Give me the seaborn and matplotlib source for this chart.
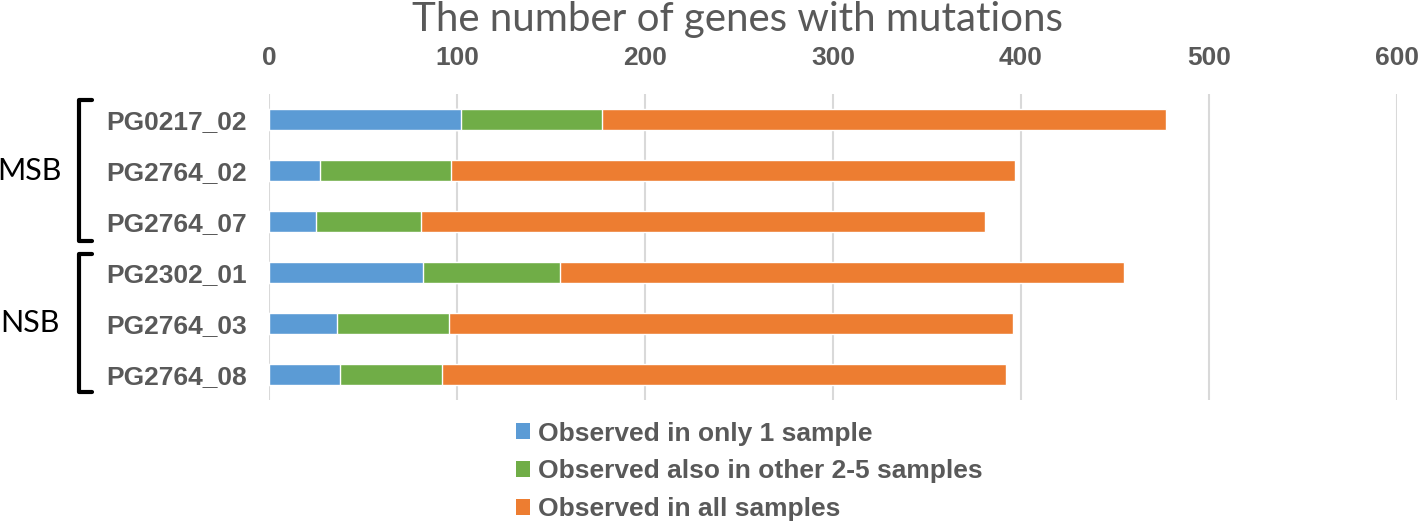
import matplotlib
matplotlib.use('Agg')
import matplotlib.pyplot as plt
from matplotlib.lines import Line2D
from matplotlib.patches import Patch
import matplotlib.transforms as mtransforms
import pandas as pd
import seaborn as sns

samples = ['PG0217_02', 'PG2764_02', 'PG2764_07', 'PG2302_01', 'PG2764_03', 'PG2764_08']
groups = ['MSB', 'MSB', 'MSB', 'NSB', 'NSB', 'NSB']
only_one = [102, 27, 25, 82, 36, 38]
other_2_5 = [75, 70, 56, 73, 60, 54]
all_samples = [300, 300, 300, 300, 300, 300]
series_names = ['Observed in only 1 sample', 'Observed also in other 2-5 samples', 'Observed in all samples']
colors = ['#5B9BD5', '#70AD47', '#ED7D31']
x_ticks = [0, 100, 200, 300, 400, 500, 600]

grey = '#595959'


def main():
    sns.set_theme(style='white')
    plt.rcParams['font.family'] = ['Liberation Sans', 'DejaVu Sans']

    df = pd.DataFrame({'sample': samples, 'group': groups,
                       'one': only_one, 'other': other_2_5, 'all': all_samples})
    # cumulative ends for stacking
    df['c1'] = df['one']
    df['c2'] = df['one'] + df['other']
    df['c3'] = df['c2'] + df['all']

    fig = plt.figure(figsize=(14.18, 5.23), dpi=100)
    ax = fig.add_axes([269 / 1418, 1 - 400 / 523, 1128 / 1418, 306 / 523])

    for col, color in zip(['c3', 'c2', 'c1'], colors[::-1]):
        sns.barplot(data=df, x=col, y='sample', color=color, orient='h',
                    width=0.4, saturation=1, ax=ax, order=samples)

    ax.set_xlim(0, 600)
    ax.set_xticks(x_ticks)
    ax.xaxis.tick_top()
    ax.tick_params(axis='x', length=0, pad=17, labelsize=19, labelcolor=grey)
    ax.tick_params(axis='y', length=0, pad=16, labelsize=19, labelcolor=grey)
    for lab in ax.get_xticklabels() + ax.get_yticklabels():
        lab.set_fontweight('bold')
    ax.set_xlabel('')
    ax.set_ylabel('')
    ax.grid(axis='x', color='#D9D9D9', linewidth=1.5)
    ax.set_axisbelow(True)
    for s in ax.spines.values():
        s.set_visible(False)

    # group brackets
    trans = mtransforms.blended_transform_factory(ax.transAxes, ax.transData)
    for lo, hi, name, mid in [(-0.38, 2.38, 'MSB', 1), (2.64, 5.34, 'NSB', 4)]:
        xs = [-0.157, -0.168, -0.168, -0.157]
        ys = [lo, lo, hi, hi]
        ax.add_artist(Line2D(xs, ys, transform=trans, color='black',
                             linewidth=3, clip_on=False))
        ax.text(-0.212, mid, name, transform=trans, ha='center', va='center',
                fontsize=22, family=['Lato', 'DejaVu Sans'], color='black')

    fig.text(738 / 1418, 1 - 19 / 523, 'The number of genes with mutations',
             ha='center', va='center', fontsize=29, color=grey,
             family=['Lato', 'DejaVu Sans'])

    handles = [Patch(facecolor=c, edgecolor='none') for c in colors]
    leg = fig.legend(handles, series_names, loc='upper left',
                     bbox_to_anchor=(505 / 1418, 1 - 411 / 523), frameon=False,
                     handlelength=0.55, handleheight=0.55, handletextpad=0.3,
                     labelspacing=0.52, borderaxespad=0,
                     prop={'size': 19, 'weight': 'bold'})
    for t in leg.get_texts():
        t.set_color(grey)

    fig.savefig('out.png', dpi=100)


if __name__ == '__main__':
    main()
